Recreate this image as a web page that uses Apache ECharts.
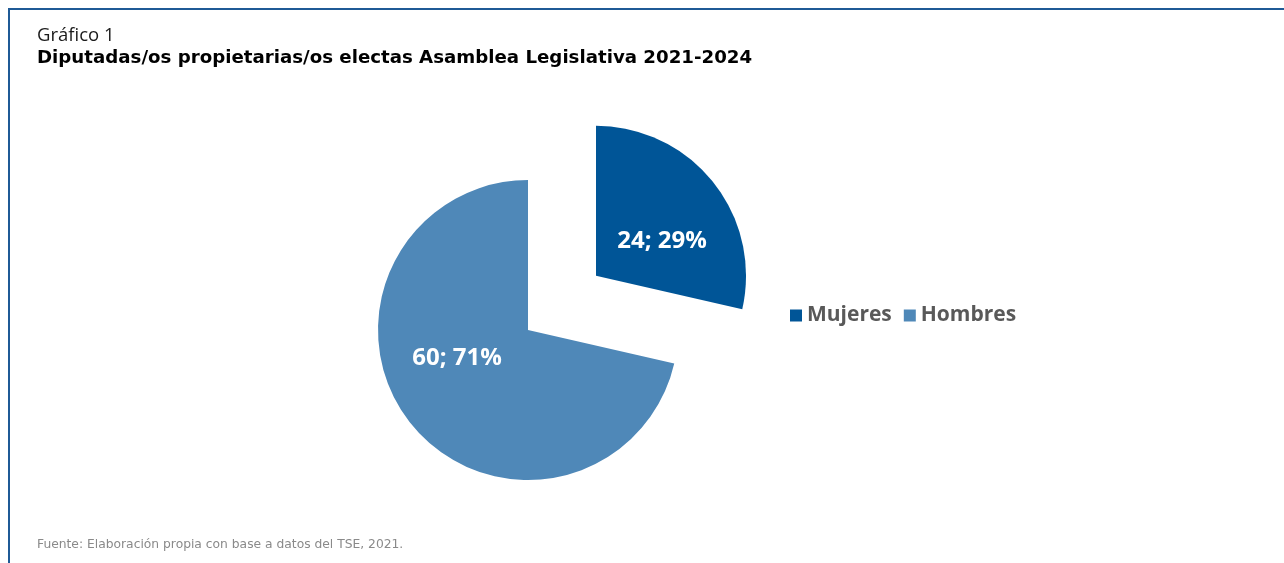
<!DOCTYPE html>
<html><head><meta charset="utf-8">
<script src="https://cdn.jsdelivr.net/npm/echarts@6/dist/echarts.min.js"></script>
<style>html,body{margin:0;padding:0;background:#fff}#c{width:1284px;height:563px}</style>
</head><body><div id="c"></div>
<script>
const categories = ['Mujeres', 'Hombres'];
const values = [24, 60];
const colors = ['#005597', '#4F88B8'];
const titleSup = 'Gráfico 1';
const titleMain = 'Diputadas/os propietarias/os electas Asamblea Legislativa 2021-2024';
const source = 'Fuente: Elaboración propia con base a datos del TSE, 2021.';

const labelShift = [[5, 14], [-10, -20]];
const total = values.reduce((a, b) => a + b, 0);
const chart = echarts.init(document.getElementById('c'));
chart.setOption({
  animation: false,
  title: [
    {text: titleSup, left: 32, top: 21, textStyle: {fontFamily: 'Open Sans', fontWeight: 'normal', fontSize: 18.5, color: '#1a1a1a'}},
    {text: titleMain, left: 32, top: 44, textStyle: {fontFamily: 'DejaVu Sans', fontWeight: 'bold', fontSize: 18.2, color: '#000'}},
    {text: source, left: 32, top: 534, textStyle: {fontFamily: 'DejaVu Sans', fontWeight: 'normal', fontSize: 12.3, color: '#8a8a8a'}}
  ],
  graphic: [{
    type: 'polyline', silent: true,
    shape: {points: [[9, 563], [9, 9], [1284, 9]]},
    style: {stroke: '#1F5A96', lineWidth: 2, fill: null}
  }],
  legend: {
    data: categories, left: 785, top: 300, orient: 'horizontal',
    itemWidth: 12, itemHeight: 12, itemGap: 12, icon: 'rect',
    textStyle: {fontFamily: 'Open Sans', fontWeight: 'bold', fontSize: 21, color: '#595959'},
    selectedMode: false
  },
  series: [{
    type: 'pie', center: [528, 330], radius: 150, startAngle: 90, clockwise: true,
    selectedMode: 'single', selectedOffset: 87,
    label: {show: true, position: 'inside', color: '#fff', fontFamily: 'Open Sans', fontWeight: 'bold', fontSize: 24,
      formatter: p => p.value + '; ' + Math.round(p.value / total * 100) + '%'},
    labelLayout: p => ({dx: labelShift[p.dataIndex][0], dy: labelShift[p.dataIndex][1]}),
    labelLine: {show: false},
    emphasis: {disabled: true},
    data: categories.map((c, i) => ({name: c, value: values[i], selected: i === 0,
      itemStyle: {color: colors[i]}}))
  }]
});
</script></body></html>
